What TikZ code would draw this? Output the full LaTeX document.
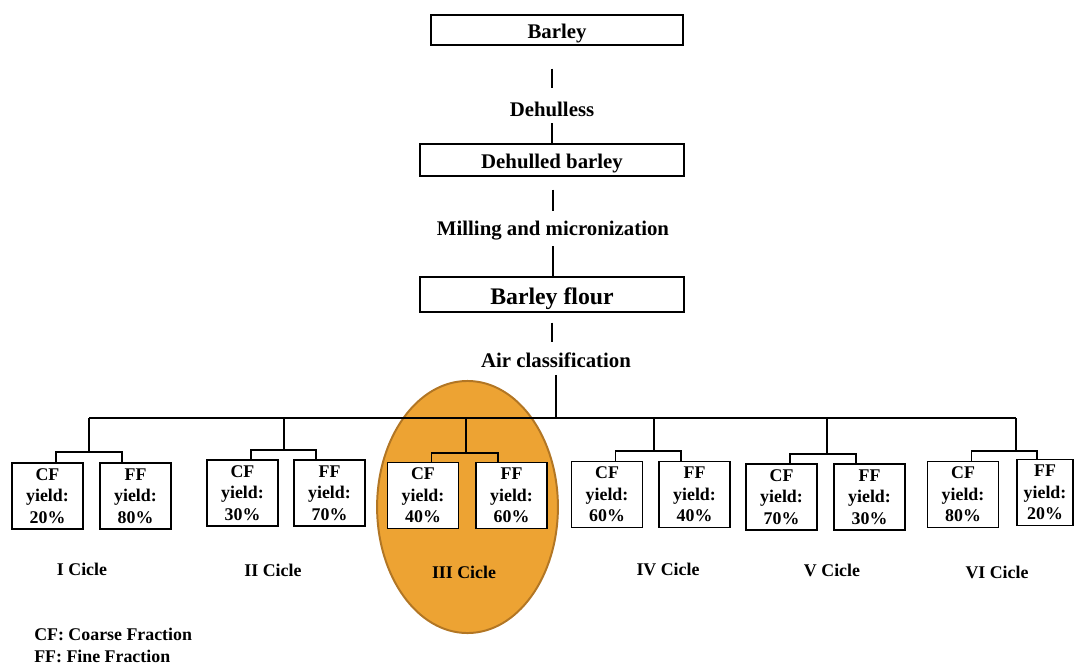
\documentclass[tikz,border=0pt]{standalone}
\usepackage{fontspec}
\setmainfont{Liberation Serif}
\usetikzlibrary{positioning,calc}
\definecolor{cicleFill}{RGB}{237,163,51}
\definecolor{cicleEdge}{RGB}{178,118,36}
\tikzset{
  link/.style={line width=0.9pt},
  stepbox/.style={draw, line width=0.9pt, fill=white, minimum width=6.6cm, minimum height=0.75cm, inner sep=0pt,
    text height=11.5pt, text depth=0pt, font=\fontsize{14.8}{17}\selectfont\bfseries},
  steplbl/.style={inner sep=0pt, text height=10pt, text depth=0pt, font=\fontsize{14.8}{17}\selectfont\bfseries},
  fracbox/.style={draw, line width=0.9pt, fill=white, minimum width=1.775cm, minimum height=1.65cm, inner sep=0pt,
    align=center, font=\fontsize{12.7}{15.2}\selectfont\bfseries},
  ciclelbl/.style={inner sep=0pt, font=\fontsize{12.7}{15}\selectfont\bfseries},
}

\begin{document}
\begin{tikzpicture}[x=0.025cm, y=-0.025cm]
    \useasboundingbox (0,0) rectangle (1075,664);
    % third cycle highlighted
    \filldraw[fill=cicleFill, draw=cicleEdge, line width=1.4pt] (467.5,507) ellipse [x radius=2.26cm, y radius=3.15cm];
    % process chain
    \node[stepbox, minimum width=6.3cm] (barley) at (557,30) {Barley};
    \node[steplbl] (dehulling) at (552,109) {Dehulless};
    \node[stepbox, minimum height=0.8cm] (dehulled) at (552,160) {Dehulled barley};
    \node[steplbl] (milling) at (553,228.5) {Milling and micronization};
    \node[stepbox, minimum height=0.875cm, text height=14pt, font=\fontsize{16.9}{19}\selectfont\bfseries] (flour) at (552,294.5) {Barley flour};
    \node[steplbl] (aircls) at (556,360) {Air classification};
    \draw[link, shorten <=0.575cm, shorten >=0.34cm] (dehulling.north |- barley.south) -- (dehulling.north);
    \draw[link, shorten <=0.17cm] (dehulling.south) -- (dehulled.north -| dehulling.south);
    \draw[link, shorten <=0.325cm, shorten >=0.26cm] (dehulled.south -| milling.north) -- (milling.north);
    \draw[link, shorten <=0.255cm] (milling.south) -- (flour.north -| milling.south);
    \draw[link, shorten <=0.25cm, shorten >=0.27cm] (flour.south) -- (flour.south |- aircls.north);
    % split into the six cycles
    \coordinate (split) at (556,418);
    \coordinate (d1) at (89,418);
    \coordinate (d2) at (284,418);
    \coordinate (d3) at (466,418);
    \coordinate (d4) at (654,418);
    \coordinate (d5) at (827,418);
    \coordinate (d6) at (1016,418);
    \coordinate (j1) at (89,452);
    \coordinate (j2) at (284,450);
    \coordinate (j3) at (466,453);
    \coordinate (j4) at (654,451);
    \coordinate (j5) at (827,454);
    \coordinate (j6) at (1016,451);
    \draw[link, shorten <=0.19cm] (split |- aircls.south) -- (split);
    \draw[link] (d1) -- (d6);
    \draw[link] (d1) -- (j1);
    \draw[link] (d2) -- (j2);
    \draw[link] (d3) -- (j3);
    \draw[link] (d4) -- (j4);
    \draw[link] (d5) -- (j5);
    \draw[link] (d6) -- (j6);
    % fraction yields
    \node[fracbox] (cf1) at (47.5,496) {CF\\yield:\\20\%};
    \node[fracbox] (ff1) at (135.5,496) {FF\\yield:\\80\%};
    \node[fracbox] (cf2) at (242.5,493) {CF\\yield:\\30\%};
    \node[fracbox] (ff2) at (329.5,493) {FF\\yield:\\70\%};
    \node[fracbox] (cf3) at (423,495.5) {CF\\yield:\\40\%};
    \node[fracbox] (ff3) at (511.5,495.5) {FF\\yield:\\60\%};
    \node[fracbox] (cf4) at (607,494.5) {CF\\yield:\\60\%};
    \node[fracbox] (ff4) at (694.5,494.5) {FF\\yield:\\40\%};
    \node[fracbox] (cf5) at (781.5,497) {CF\\yield:\\70\%};
    \node[fracbox] (ff5) at (869.5,497) {FF\\yield:\\30\%};
    \node[fracbox] (cf6) at (963,494.5) {CF\\yield:\\80\%};
    \node[fracbox, minimum width=1.4cm] (ff6) at (1045,492.5) {FF\\yield:\\20\%};
    \draw[link] ([xshift=0.21cm]cf1.north) |- (j1) -| ([xshift=-0.34cm]ff1.north);
    \draw[link] ([xshift=0.21cm]cf2.north) |- (j2) -| ([xshift=-0.34cm]ff2.north);
    \draw[link] ([xshift=0.21cm]cf3.north) |- (j3) -| ([xshift=-0.34cm]ff3.north);
    \draw[link] ([xshift=0.21cm]cf4.north) |- (j4) -| ([xshift=-0.34cm]ff4.north);
    \draw[link] ([xshift=0.21cm]cf5.north) |- (j5) -| ([xshift=-0.34cm]ff5.north);
    \draw[link] ([xshift=0.21cm]cf6.north) |- (j6) -| ([xshift=-0.2cm]ff6.north);
    % cycle names
    \node[ciclelbl] (c1) at (82,569) {I Cicle};
    \node[ciclelbl] (c2) at (273,570) {II Cicle};
    \node[ciclelbl] (c3) at (464,572) {III Cicle};
    \node[ciclelbl] (c4) at (668,569) {IV Cicle};
    \node[ciclelbl] (c5) at (832,570) {V Cicle};
    \node[ciclelbl] (c6) at (997,572) {VI Cicle};
    % legend
    \node[ciclelbl, anchor=west] (legcf) at (34,634) {CF: Coarse Fraction};
    \node[ciclelbl, anchor=west] (legff) at (34,656) {FF: Fine Fraction};
\end{tikzpicture}
\end{document}
